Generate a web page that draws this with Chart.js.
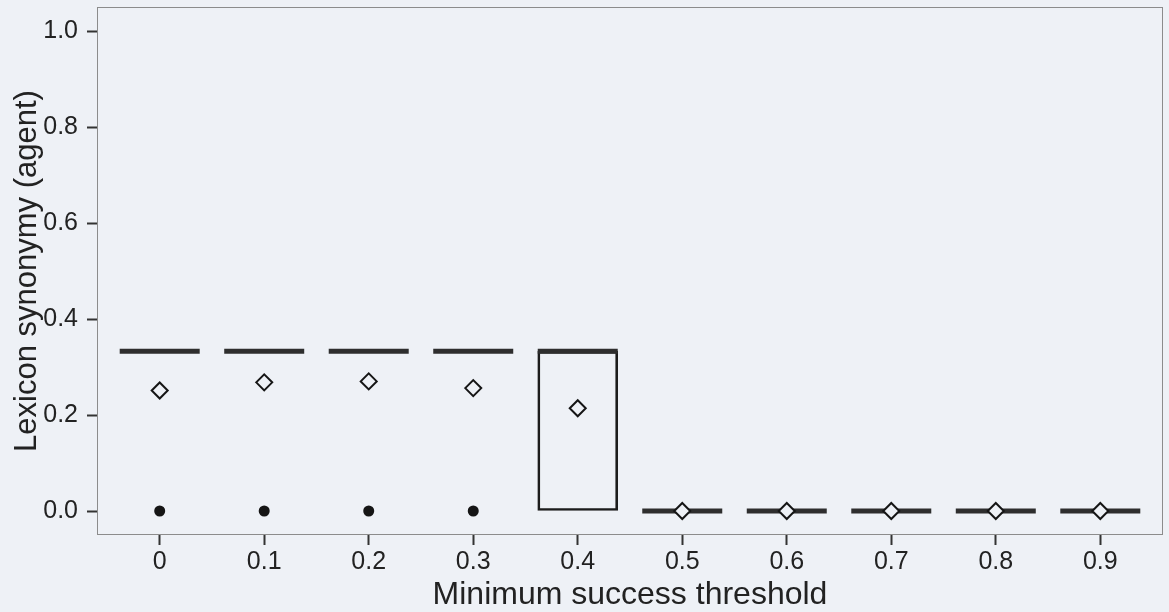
<!DOCTYPE html>
<html>
<head>
<meta charset="utf-8">
<script src="https://cdn.jsdelivr.net/npm/chart.js@4.4.1/dist/chart.umd.min.js"></script>
<style>
  html, body { margin: 0; padding: 0; background: #eef1f6; }
  #wrap { width: 1169px; height: 612px; }
</style>
</head>
<body>
<div id="wrap"><canvas id="chart"></canvas></div>
<script>
// Valores (boxplot por limiar mínimo de sucesso)
const thresholds = [0, 0.1, 0.2, 0.3, 0.4, 0.5, 0.6, 0.7, 0.8, 0.9];
const thresholdLabels = ['0', '0.1', '0.2', '0.3', '0.4', '0.5', '0.6', '0.7', '0.8', '0.9'];
const lowerQuartiles = [0.333, 0.333, 0.333, 0.333, 0, 0, 0, 0, 0, 0];
const upperQuartiles = [0.333, 0.333, 0.333, 0.333, 0.333, 0, 0, 0, 0, 0];
const medians = [0.333, 0.333, 0.333, 0.333, 0.333, 0, 0, 0, 0, 0];
const means = [0.251, 0.268, 0.270, 0.256, 0.214, 0, 0, 0, 0, 0];
const outlierX = [0, 0.1, 0.2, 0.3];
const outlierY = [0, 0, 0, 0];
const yTicks = [0, 0.2, 0.4, 0.6, 0.8, 1.0];

const bg = '#eef1f6';
const fontFamily = '"Liberation Sans", Arial, sans-serif';

// Moldura fina em volta da área do gráfico
const framePlugin = {
    id: 'frame',
    beforeDatasetsDraw(chart) {
        const { ctx, chartArea: a } = chart;
        ctx.save();
        ctx.strokeStyle = '#8c8c8c';
        ctx.lineWidth = 1;
        ctx.strokeRect(a.left + 0.5, a.top + 0.5, a.width - 1, a.height - 1);
        ctx.restore();
    },
};

const ctx = document.getElementById('chart').getContext('2d');
const data = {
    datasets: [
        {
            type: 'line',
            label: 'Média',
            data: thresholds.map((t, i) => ({ x: t, y: means[i] })),
            showLine: false,
            pointStyle: 'rectRot',
            pointRadius: 8,
            pointBorderWidth: 2,
            pointBorderColor: '#151515',
            pointBackgroundColor: bg,
            order: 0,
        },
        {
            type: 'line',
            label: 'Outliers',
            data: outlierX.map((x, i) => ({ x: x, y: outlierY[i] })),
            showLine: false,
            pointStyle: 'circle',
            pointRadius: 5.5,
            pointBorderWidth: 0,
            pointBackgroundColor: '#151515',
            order: 1,
        },
        {
            type: 'line',
            label: 'Mediana',
            data: thresholds.map((t, i) => ({ x: t, y: medians[i] })),
            showLine: false,
            pointStyle: 'line',
            pointRadius: 40,
            pointBorderWidth: 5,
            pointBorderColor: '#2e2e2e',
            order: 2,
        },
        {
            type: 'bar',
            label: 'Caixa',
            data: thresholds.map((t, i) => ({ x: t, y: [lowerQuartiles[i], upperQuartiles[i]] })),
            barThickness: 80,
            borderWidth: 2,
            borderSkipped: false,
            borderColor: '#1c1c1c',
            backgroundColor: 'rgba(0,0,0,0)',
            order: 3,
        },
    ],
};

const config = {
    type: 'bar',
    data: data,
    plugins: [framePlugin],
    options: {
        responsive: true,
        maintainAspectRatio: false,
        animation: false,
        events: [],
        layout: { autoPadding: false, padding: { top: 7, right: 6, left: 0, bottom: 0 } },
        plugins: {
            legend: { display: false },
            tooltip: { enabled: false },
        },
        scales: {
            x: {
                type: 'linear',
                min: -0.06,
                max: 0.96,
                offset: false,
                afterBuildTicks: (scale) => { scale.ticks = thresholds.map(v => ({ value: v })); },
                afterFit: (scale) => { scale.height = 77; },
                border: { display: false },
                grid: {
                    offset: false,
                    drawOnChartArea: false,
                    drawTicks: true,
                    tickLength: 10,
                    tickColor: '#333',
                    tickWidth: 2,
                },
                ticks: {
                    autoSkip: false,
                    maxRotation: 0,
                    padding: 2,
                    color: '#222',
                    font: { family: fontFamily, size: 25 },
                    callback: (value, index) => thresholdLabels[index],
                },
                title: {
                    display: true,
                    text: 'Minimum success threshold',
                    color: '#222',
                    padding: { top: 0, bottom: -2 },
                    font: { family: fontFamily, size: 32 },
                },
            },
            y: {
                type: 'linear',
                min: -0.05,
                max: 1.05,
                afterBuildTicks: (scale) => { scale.ticks = yTicks.map(v => ({ value: v })); },
                afterFit: (scale) => {
                    scale.width = 97;
                    scale.paddingTop = 0;
                    scale.paddingBottom = 0;
                },
                border: { display: false },
                grid: {
                    drawOnChartArea: false,
                    drawTicks: true,
                    tickLength: 10,
                    tickColor: '#333',
                    tickWidth: 2,
                },
                ticks: {
                    padding: 9,
                    color: '#222',
                    font: { family: fontFamily, size: 25 },
                    callback: (value) => value.toFixed(1),
                },
                title: {
                    display: true,
                    text: 'Lexicon synonymy (agent)',
                    color: '#222',
                    padding: { top: 9, bottom: 0 },
                    font: { family: fontFamily, size: 31 },
                },
            },
        },
    },
};

const myChart = new Chart(ctx, config);
</script>
</body>
</html>
